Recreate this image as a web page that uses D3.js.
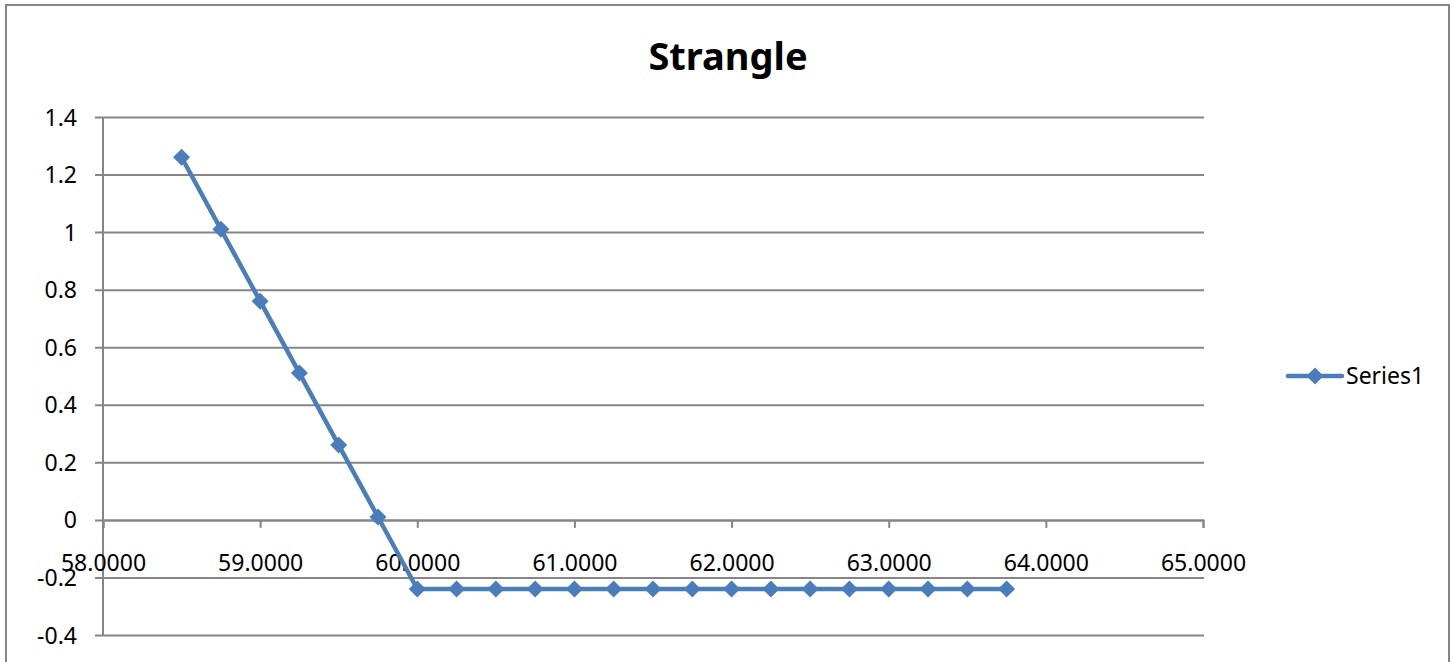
<!DOCTYPE html>
<html>
<head>
<meta charset="utf-8">
<script src="https://cdn.jsdelivr.net/npm/d3@7"></script>
<style>
  body { margin: 0; background: #fff; }
  text { font-family: "Noto Sans", "Open Sans", sans-serif; fill: #000; }
</style>
</head>
<body>
<div id="chart"></div>
<script>
// data
var strikes = [58.5, 58.75, 59, 59.25, 59.5, 59.75, 60, 60.25, 60.5, 60.75, 61, 61.25, 61.5, 61.75,
               62, 62.25, 62.5, 62.75, 63, 63.25, 63.5, 63.75];
var payoff = [1.26, 1.01, 0.76, 0.51, 0.26, 0.01, -0.24, -0.24, -0.24, -0.24, -0.24, -0.24, -0.24, -0.24,
              -0.24, -0.24, -0.24, -0.24, -0.24, -0.24, -0.24, -0.24];
var xTicks = [58, 59, 60, 61, 62, 63, 64, 65];
var yTicks = [-0.4, -0.2, 0, 0.2, 0.4, 0.6, 0.8, 1, 1.2, 1.4];
var seriesName = 'Series1';
var chartTitle = 'Strangle';

var W = 1453, H = 662;
var lineColor = '#4a7ebb';
var gridColor = '#868686';

var svg = d3.select('#chart').append('svg')
    .attr('width', W)
    .attr('height', H);

// outer chart border
svg.append('rect')
    .attr('x', 6).attr('y', 5)
    .attr('width', 1443).attr('height', 700)
    .attr('fill', 'none')
    .attr('stroke', gridColor)
    .attr('stroke-width', 2);

var xScale = d3.scaleLinear().domain([58, 65]).range([103, 1203]);
var yScale = d3.scaleLinear().domain([-0.4, 1.4]).range([635, 117]);

// horizontal grid lines + y labels (plain hyphen for negatives, like the original)
var yAxis = d3.axisLeft(yScale)
    .tickValues(yTicks)
    .tickSize(-(1204 - 95))
    .tickFormat(function(d){ return String(+d.toFixed(1)); });

var yg = svg.append('g')
    .attr('transform', 'translate(95,0)')
    .call(yAxis);
yg.select('.domain').remove();
yg.selectAll('line').attr('stroke', gridColor).attr('stroke-width', 2);
yg.selectAll('text')
    .style('font-size', '23px')
    .attr('dy', '0.35em')
    .attr('x', -18);

// vertical axis line
svg.append('line')
    .attr('x1', 103).attr('x2', 103)
    .attr('y1', yScale(1.4)).attr('y2', yScale(-0.4))
    .attr('stroke', gridColor).attr('stroke-width', 2);

// x axis sitting at y = 0
var xAxis = d3.axisBottom(xScale)
    .tickValues(xTicks)
    .tickSize(8)
    .tickPadding(27)
    .tickFormat(d3.format('.4f'));

var xg = svg.append('g')
    .attr('transform', 'translate(0,' + yScale(0) + ')')
    .call(xAxis);
xg.select('.domain').attr('stroke', gridColor).attr('stroke-width', 2);
xg.selectAll('line').attr('stroke', gridColor).attr('stroke-width', 2);
xg.selectAll('text').style('font-size', '23px');

// series line
var pts = strikes.map(function(s, i){ return [s, payoff[i]]; });
svg.append('path')
    .datum(pts)
    .attr('fill', 'none')
    .attr('stroke', lineColor)
    .attr('stroke-width', 4.5)
    .attr('stroke-linejoin', 'round')
    .attr('d', d3.line()
        .x(function(d){ return xScale(d[0]); })
        .y(function(d){ return yScale(d[1]); }));

// diamond markers
var diamond = 'M0,-8.5L8.5,0L0,8.5L-8.5,0Z';
svg.selectAll('.marker')
    .data(pts)
    .enter().append('path')
    .attr('class', 'marker')
    .attr('d', diamond)
    .attr('fill', lineColor)
    .attr('transform', function(d){
        return 'translate(' + xScale(d[0]) + ',' + yScale(d[1]) + ')';
    });

// title
svg.append('text')
    .attr('x', 728).attr('y', 70)
    .attr('text-anchor', 'middle')
    .style('font-size', '38px')
    .style('font-weight', 'bold')
    .text(chartTitle);

// legend
var lg = svg.append('g').attr('transform', 'translate(1288,376)');
lg.append('line')
    .attr('x1', 0).attr('x2', 54)
    .attr('stroke', lineColor).attr('stroke-width', 4.5)
    .attr('stroke-linecap', 'round');
lg.append('path').attr('d', diamond).attr('fill', lineColor)
    .attr('transform', 'translate(27,0)');
lg.append('text')
    .attr('x', 58).attr('dy', '0.35em')
    .style('font-size', '23px')
    .text(seriesName);
</script>
</body>
</html>
